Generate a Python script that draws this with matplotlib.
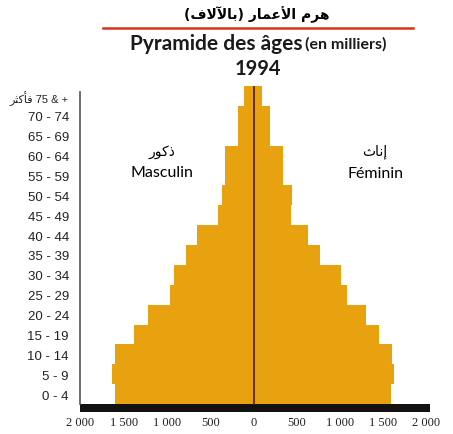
"age pyramid 1994 (en milliers)"
import numpy as np
from matplotlib import pyplot as plt

# DATA (thousands), bottom row first
ages = ['0 - 4', '5 - 9', '10 - 14', '15 - 19', '20 - 24', '25 - 29', '30 - 34', '35 - 39',
        '40 - 44', '45 - 49', '50 - 54', '55 - 59', '60 - 64', '65 - 69', '70 - 74',
        '\ufeae\ufe9c\ufedb\ufe84\ufed3 75 & +']
masculin = [1605, 1640, 1605, 1385, 1225, 960, 915, 785, 650, 405, 370, 325, 325, 185, 185, 105]
feminin = [1585, 1620, 1605, 1445, 1305, 1075, 1015, 765, 635, 430, 450, 345, 345, 185, 185, 95]
xticks = [-2000, -1500, -1000, -500, 0, 500, 1000, 1500, 2000]
xlabels = ['2 000', '1 500', '1 000', '500', '0', '500', '1 000', '1 500', '2 000']

# arabic strings in visual order (presentation forms, matplotlib has no bidi)
titre_ar = '(\ufed1\ufefb\ufef5\ufe8e\ufe91) \ufead\ufe8e\ufee4\ufecb\ufef7\ufe8d \ufee1\ufeae\ufeeb'
hommes_ar = '\ufead\ufeee\ufedb\ufeab'
femmes_ar = '\ufe99\ufe8e\ufee7\ufe87'

orange = '#E9A20F'
W, H = 453, 435

fig = plt.figure(figsize=(W / 100, H / 100), dpi=100)
ax = fig.add_axes([80 / W, (H - 413) / H, 350 / W, 326 / H])

y = np.arange(len(ages))
ax.barh(y, [-m for m in masculin], height=1.0, color=orange, lw=0)
ax.barh(y, feminin, height=1.0, color=orange, lw=0)
ax.plot([0, 0], [-0.5, 15.5], color='#5a2508', lw=1.3)
ax.axhspan(-0.9, -0.5, color='#141210', lw=0)

ax.set_xlim(-2006, 2040)
ax.set_ylim(-0.9, 15.5)
for s in ['top', 'right', 'bottom']:
    ax.spines[s].set_visible(False)
ax.spines['left'].set_bounds(-0.5, 15.2)
ax.spines['left'].set_color('#555555')
ax.spines['left'].set_linewidth(1.2)

ax.set_yticks(y)
ax.set_yticklabels(ages, fontsize=9.5, family=['Liberation Sans', 'DejaVu Sans'], color='#222222')
ax.get_yticklabels()[-1].set_fontsize(8)
ax.set_xticks(xticks)
ax.set_xticklabels(xlabels, fontsize=9, family='Liberation Serif', color='#222222')
ax.tick_params(axis='y', length=0, pad=8)
ax.tick_params(axis='x', length=0, pad=3)

ax.text(-1055, 12.24, hommes_ar, ha='center', va='center', fontsize=10, family='DejaVu Sans')
ax.text(-1055, 11.19, 'Masculin', ha='center', va='center', fontsize=11.5, family='Lato')
ax.text(1405, 12.24, femmes_ar, ha='center', va='center', fontsize=10, family='DejaVu Sans')
ax.text(1405, 11.1, 'Féminin', ha='center', va='center', fontsize=11.5, family='Lato')

# titles
fig.text(257 / W, 1 - 15 / H, titre_ar, ha='center', va='center', fontsize=10,
         family='DejaVu Sans', weight='bold')
fig.add_artist(plt.Line2D([103 / W, 413 / W], [1 - 29 / H, 1 - 29 / H], color='#d8321c', lw=1.8))
fig.text(130 / W, 1 - 44 / H, 'Pyramide des âges', ha='left', va='center', fontsize=15,
         family='Lato', weight='bold', color='#1a1a1a')
fig.text(305 / W, 1 - 44 / H, '(en milliers)', ha='left', va='center', fontsize=11.5,
         family='Lato', weight='bold', color='#1a1a1a')
fig.text(258 / W, 1 - 69 / H, '1994', ha='center', va='center', fontsize=14.5,
         family='Lato', weight='bold', color='#1a1a1a')

plt.savefig('out.png', dpi=100)
